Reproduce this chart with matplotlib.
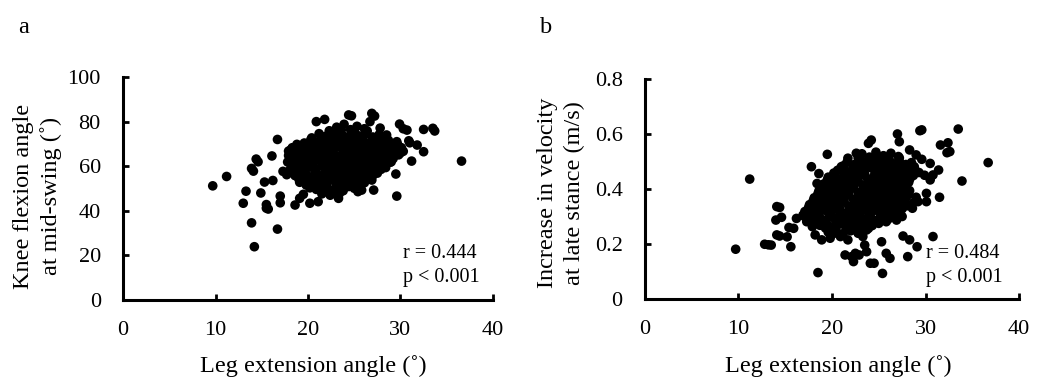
import matplotlib
matplotlib.use("Agg")
import matplotlib.pyplot as plt

plt.rcParams["font.family"] = ["Liberation Serif", "DejaVu Serif"]

# Panel a: leg extension angle (deg) vs knee flexion angle at mid-swing (deg)
# dense middle of the cloud
a_core = [
    (23.1, 77.5), (23.9, 78.8), (24.6, 76.4), (25.3, 77.9), (26.1, 76.8),
    (21.2, 74.6), (21.9, 73.4), (22.6, 75.1), (23.3, 74.0), (24.0, 73.2),
    (24.8, 74.9), (25.5, 73.6), (26.2, 74.4), (27.0, 73.1), (27.7, 74.2),
    (19.6, 70.4), (20.3, 71.8), (21.0, 70.9), (21.7, 71.5), (22.4, 70.2),
    (23.1, 71.9), (23.8, 70.6), (24.5, 71.3), (25.2, 70.1), (25.9, 71.7),
    (26.6, 70.5), (27.3, 71.2), (28.0, 70.3), (28.7, 71.6), (29.3, 70.0),
    (18.2, 67.6), (18.9, 68.5), (19.6, 67.3), (20.3, 68.8), (21.0, 67.5),
    (21.7, 68.2), (22.4, 67.1), (23.1, 68.6), (23.8, 67.4), (24.5, 68.3),
    (25.2, 67.0), (25.9, 68.7), (26.6, 67.6), (27.3, 68.4), (28.0, 67.2),
    (28.7, 68.1), (29.4, 67.5), (30.1, 68.3),
    (17.9, 64.8), (18.6, 65.6), (19.3, 64.3), (20.0, 65.4), (20.7, 64.6),
    (21.4, 65.9), (22.1, 64.2), (22.8, 65.3), (23.5, 64.7), (24.2, 65.8),
    (24.9, 64.4), (25.6, 65.2), (26.3, 64.9), (27.0, 65.7), (27.7, 64.1),
    (28.4, 65.5), (29.1, 64.6), (29.8, 65.1),
    (17.8, 61.9), (18.5, 62.7), (19.2, 61.3), (19.9, 62.4), (20.6, 61.6),
    (21.3, 62.9), (22.0, 61.2), (22.7, 62.5), (23.4, 61.8), (24.1, 62.6),
    (24.8, 61.4), (25.5, 62.2), (26.2, 61.7), (26.9, 62.8), (27.6, 61.5),
    (28.3, 62.3), (28.9, 61.8),
    (18.1, 58.7), (18.8, 59.5), (19.5, 58.3), (20.2, 59.6), (20.9, 58.8),
    (21.6, 59.9), (22.3, 58.4), (23.0, 59.2), (23.7, 58.6), (24.4, 59.7),
    (25.1, 58.5), (25.8, 59.3), (26.5, 58.9), (27.2, 59.8), (27.9, 58.6),
    (28.4, 59.4),
    (18.6, 55.8), (19.3, 56.6), (20.0, 55.4), (20.7, 56.3), (21.4, 55.7),
    (22.1, 56.8), (22.8, 55.2), (23.5, 56.4), (24.2, 55.9), (24.9, 56.7),
    (25.6, 55.5), (26.3, 56.2), (27.0, 55.8), (27.5, 56.9),
    (19.1, 52.8), (19.8, 53.6), (20.5, 52.4), (21.2, 53.3), (21.9, 52.7),
    (22.6, 53.8), (23.3, 52.5), (24.0, 53.4), (24.7, 52.9), (25.4, 53.7),
    (26.1, 52.6),
    (20.2, 50.3), (20.9, 49.6), (21.6, 50.8), (22.3, 49.4), (23.0, 50.5),
    (23.7, 49.8), (24.4, 50.9), (25.0, 50.1),
    (21.5, 47.6), (22.4, 47.0), (23.4, 47.8),
]
# more points sitting between the rows above
a_fill = [
    (22.3, 75.9), (23.6, 76.2), (25.0, 75.6), (26.4, 75.8),
    (20.4, 72.7), (21.5, 72.9), (22.6, 72.4), (23.7, 72.8), (24.8, 72.5),
    (25.9, 72.9), (27.0, 72.3), (28.1, 72.6),
    (18.8, 69.8), (19.9, 69.4), (21.0, 69.9), (22.1, 69.5), (23.2, 69.7),
    (24.3, 69.3), (25.4, 69.8), (26.5, 69.4), (27.6, 69.9), (28.7, 69.5),
    (29.7, 69.7),
    (18.3, 66.3), (19.4, 66.8), (20.5, 66.2), (21.6, 66.7), (22.7, 66.4),
    (23.8, 66.9), (24.9, 66.3), (26.0, 66.6), (27.1, 66.2), (28.2, 66.8),
    (29.3, 66.4), (30.3, 66.7),
    (18.2, 63.6), (19.3, 63.2), (20.4, 63.8), (21.5, 63.4), (22.6, 63.7),
    (23.7, 63.3), (24.8, 63.9), (25.9, 63.5), (27.0, 63.2), (28.1, 63.8),
    (29.2, 63.4),
    (18.3, 60.2), (19.4, 60.7), (20.5, 60.3), (21.6, 60.8), (22.7, 60.1),
    (23.8, 60.6), (24.9, 60.4), (26.0, 60.9), (27.1, 60.2), (28.2, 60.6),
    (18.6, 57.4), (19.7, 57.1), (20.8, 57.6), (21.9, 57.2), (23.0, 57.7),
    (24.1, 57.3), (25.2, 57.5), (26.3, 57.1), (27.4, 57.6),
    (19.0, 54.4), (20.1, 54.1), (21.2, 54.6), (22.3, 54.2), (23.4, 54.5),
    (24.5, 54.0), (25.6, 54.4), (26.6, 54.2),
    (19.8, 51.6), (20.9, 51.2), (22.0, 51.7), (23.1, 51.3), (24.2, 51.8),
    (25.3, 51.4),
]
# scattered points around the edge
a_edge = [
    (9.7, 51.2), (11.2, 55.4), (13.0, 43.4), (13.3, 48.8), (13.9, 59.0),
    (14.1, 57.8), (13.9, 34.6), (14.2, 23.9), (14.4, 63.2), (14.6, 62.0),
    (14.9, 48.0), (15.3, 52.9), (15.5, 42.8), (15.7, 40.8), (15.5, 41.2),
    (16.1, 64.6), (16.2, 53.6), (16.7, 72.0), (16.7, 31.8), (17.0, 46.6),
    (17.0, 43.6), (17.3, 57.7), (17.7, 56.2), (17.9, 66.8), (18.3, 68.3),
    (18.6, 42.6), (19.1, 45.6), (19.5, 47.4), (20.2, 43.4), (21.1, 44.1),
    (22.9, 47.8), (23.3, 45.6), (23.8, 49.0), (25.4, 48.6), (25.8, 49.3),
    (26.9, 53.8), (27.1, 49.3), (29.5, 56.5), (29.6, 46.6),
    (20.9, 80.0), (21.8, 81.0), (24.4, 83.0), (24.7, 82.6), (26.9, 83.7),
    (27.2, 82.5), (26.7, 80.0), (27.8, 77.1), (28.5, 74.0), (29.6, 71.0),
    (29.9, 78.9), (30.3, 76.8), (30.7, 76.2), (30.9, 71.4), (31.8, 69.5),
    (32.5, 66.5), (31.2, 62.3), (32.5, 76.5), (33.5, 77.0), (33.7, 75.8),
    (36.6, 62.3), (29.6, 67.3), (29.0, 62.0), (30.0, 66.0), (31.0, 70.5),
]

# Panel b: leg extension angle (deg) vs increase in velocity at late stance (m/s)
b_core = [
    (23.2, 0.528), (24.0, 0.516), (24.7, 0.534), (25.5, 0.521), (26.3, 0.530),
    (27.1, 0.518),
    (21.6, 0.497), (22.3, 0.488), (23.0, 0.503), (23.7, 0.491), (24.4, 0.499),
    (25.1, 0.486), (25.8, 0.502), (26.5, 0.493), (27.2, 0.500), (27.9, 0.489),
    (28.5, 0.496),
    (20.6, 0.468), (21.3, 0.476), (22.0, 0.463), (22.7, 0.474), (23.4, 0.466),
    (24.1, 0.478), (24.8, 0.462), (25.5, 0.473), (26.2, 0.467), (26.9, 0.477),
    (27.6, 0.464), (28.3, 0.472), (28.9, 0.468),
    (19.6, 0.443), (20.3, 0.451), (21.0, 0.438), (21.7, 0.448), (22.4, 0.441),
    (23.1, 0.452), (23.8, 0.437), (24.5, 0.446), (25.2, 0.440), (25.9, 0.450),
    (26.6, 0.436), (27.3, 0.447), (28.0, 0.442), (28.7, 0.449),
    (19.1, 0.418), (19.8, 0.426), (20.5, 0.413), (21.2, 0.423), (21.9, 0.416),
    (22.6, 0.427), (23.3, 0.412), (24.0, 0.421), (24.7, 0.417), (25.4, 0.425),
    (26.1, 0.411), (26.8, 0.422), (27.5, 0.415), (28.2, 0.424),
    (18.6, 0.393), (19.3, 0.401), (20.0, 0.388), (20.7, 0.398), (21.4, 0.391),
    (22.1, 0.402), (22.8, 0.387), (23.5, 0.396), (24.2, 0.392), (24.9, 0.400),
    (25.6, 0.386), (26.3, 0.397), (27.0, 0.390), (27.7, 0.399), (28.3, 0.394),
    (18.1, 0.368), (18.8, 0.376), (19.5, 0.363), (20.2, 0.373), (20.9, 0.366),
    (21.6, 0.377), (22.3, 0.362), (23.0, 0.371), (23.7, 0.367), (24.4, 0.375),
    (25.1, 0.361), (25.8, 0.372), (26.5, 0.365), (27.2, 0.374), (27.9, 0.369),
    (17.6, 0.343), (18.3, 0.351), (19.0, 0.338), (19.7, 0.348), (20.4, 0.341),
    (21.1, 0.352), (21.8, 0.337), (22.5, 0.346), (23.2, 0.342), (23.9, 0.350),
    (24.6, 0.336), (25.3, 0.347), (26.0, 0.340), (26.7, 0.349), (27.4, 0.344),
    (28.0, 0.339),
    (17.1, 0.318), (17.8, 0.326), (18.5, 0.313), (19.2, 0.323), (19.9, 0.316),
    (20.6, 0.327), (21.3, 0.312), (22.0, 0.321), (22.7, 0.317), (23.4, 0.325),
    (24.1, 0.311), (24.8, 0.322), (25.5, 0.315), (26.2, 0.324), (26.9, 0.319),
    (27.5, 0.328),
    (17.6, 0.293), (18.3, 0.301), (19.0, 0.288), (19.7, 0.298), (20.4, 0.291),
    (21.1, 0.302), (21.8, 0.287), (22.5, 0.296), (23.2, 0.292), (23.9, 0.300),
    (24.6, 0.286), (25.3, 0.297), (26.0, 0.290), (26.5, 0.299),
    (18.7, 0.268), (19.4, 0.276), (20.1, 0.263), (20.8, 0.273), (21.5, 0.266),
    (22.2, 0.277), (22.9, 0.262), (23.6, 0.271), (24.3, 0.267), (25.0, 0.275),
    (19.6, 0.243), (20.4, 0.251), (21.2, 0.238), (22.0, 0.248), (22.8, 0.241),
]
b_fill = [
    (22.8, 0.512), (23.9, 0.508), (25.0, 0.514), (26.1, 0.509), (27.2, 0.513),
    (21.2, 0.484), (22.3, 0.480), (23.4, 0.486), (24.5, 0.481), (25.6, 0.485),
    (26.7, 0.479), (27.8, 0.484), (28.8, 0.481),
    (20.2, 0.458), (21.3, 0.455), (22.4, 0.460), (23.5, 0.454), (24.6, 0.459),
    (25.7, 0.456), (26.8, 0.461), (27.9, 0.455), (28.9, 0.458),
    (19.5, 0.433), (20.6, 0.429), (21.7, 0.435), (22.8, 0.430), (23.9, 0.434),
    (25.0, 0.428), (26.1, 0.433), (27.2, 0.431), (28.3, 0.435),
    (19.0, 0.408), (20.1, 0.404), (21.2, 0.410), (22.3, 0.405), (23.4, 0.409),
    (24.5, 0.403), (25.6, 0.408), (26.7, 0.406), (27.8, 0.410),
    (18.5, 0.383), (19.6, 0.379), (20.7, 0.385), (21.8, 0.380), (22.9, 0.384),
    (24.0, 0.378), (25.1, 0.383), (26.2, 0.381), (27.3, 0.385), (28.2, 0.380),
    (18.0, 0.358), (19.1, 0.354), (20.2, 0.360), (21.3, 0.355), (22.4, 0.359),
    (23.5, 0.353), (24.6, 0.358), (25.7, 0.356), (26.8, 0.360), (27.8, 0.355),
    (17.5, 0.333), (18.6, 0.329), (19.7, 0.335), (20.8, 0.330), (21.9, 0.334),
    (23.0, 0.328), (24.1, 0.333), (25.2, 0.331), (26.3, 0.335), (27.4, 0.330),
    (17.5, 0.308), (18.6, 0.304), (19.7, 0.310), (20.8, 0.305), (21.9, 0.309),
    (23.0, 0.303), (24.1, 0.308), (25.2, 0.306), (26.3, 0.310),
    (18.2, 0.283), (19.3, 0.279), (20.4, 0.285), (21.5, 0.280), (22.6, 0.284),
    (23.7, 0.278), (24.8, 0.283), (25.8, 0.281),
    (19.3, 0.258), (20.4, 0.254), (21.5, 0.259), (22.6, 0.255), (23.6, 0.258),
]
b_edge = [
    (9.7, 0.181), (11.2, 0.436), (12.8, 0.199), (13.2, 0.197), (13.5, 0.196),
    (14.1, 0.233), (14.4, 0.229), (14.1, 0.336), (14.4, 0.333), (14.0, 0.287),
    (14.6, 0.297), (15.2, 0.226), (15.6, 0.190), (15.4, 0.260), (15.9, 0.257),
    (16.2, 0.293), (17.1, 0.299), (16.9, 0.305), (17.3, 0.281), (17.8, 0.481),
    (17.9, 0.263), (18.2, 0.233), (18.5, 0.096), (18.4, 0.420), (18.7, 0.384),
    (18.6, 0.456), (18.9, 0.215), (19.5, 0.526), (19.8, 0.221), (20.1, 0.237),
    (20.9, 0.227), (21.0, 0.481), (21.7, 0.512), (22.6, 0.530), (23.9, 0.566),
    (24.2, 0.578), (21.4, 0.160), (22.1, 0.154), (22.5, 0.166), (22.3, 0.136),
    (21.7, 0.215), (22.8, 0.239), (23.5, 0.196), (23.7, 0.172), (23.7, 0.251),
    (22.9, 0.160), (23.3, 0.227), (23.9, 0.257), (24.1, 0.130), (24.5, 0.130),
    (25.3, 0.208), (25.8, 0.166), (26.2, 0.148), (25.4, 0.093), (27.6, 0.229),
    (28.3, 0.215), (29.1, 0.190), (28.1, 0.154), (30.8, 0.227), (26.9, 0.287),
    (25.8, 0.299), (29.2, 0.354), (30.1, 0.354), (30.1, 0.384), (31.5, 0.370),
    (30.5, 0.433), (30.8, 0.451), (31.4, 0.469), (30.5, 0.493), (29.6, 0.508),
    (29.0, 0.524), (28.3, 0.542), (27.0, 0.600), (27.2, 0.572), (24.2, 0.512),
    (29.4, 0.612), (29.6, 0.615), (31.6, 0.560), (32.4, 0.568), (32.6, 0.536),
    (32.3, 0.532), (33.5, 0.618), (33.9, 0.429), (36.7, 0.496), (28.6, 0.330),
    (29.0, 0.370), (28.7, 0.350), (27.5, 0.300), (29.3, 0.460), (29.9, 0.450),
]

x_ticks = [0, 10, 20, 30, 40]
a_yticks = [0, 20, 40, 60, 80, 100]
b_yticks = [0, 0.2, 0.4, 0.6, 0.8]
b_yticklabels = ["0", "0.2", "0.4", "0.6", "0.8"]

a_points = a_core + a_fill + a_edge
b_points = b_core + b_fill + b_edge
a_x = [p[0] for p in a_points]
a_y = [p[1] for p in a_points]
b_x = [p[0] for p in b_points]
b_y = [p[1] for p in b_points]

fig = plt.figure(figsize=(10.46, 3.8), dpi=100)
ax_a = fig.add_axes([0.1176, 0.2105, 0.3537, 0.5868])
ax_b = fig.add_axes([0.6166, 0.2132, 0.3576, 0.5789])


def style_axes(ax):
    for side in ["top", "right"]:
        ax.spines[side].set_visible(False)
    for side in ["left", "bottom"]:
        ax.spines[side].set_linewidth(2.2)
    ax.tick_params(direction="in", length=4.5, width=2.0, labelsize=16)
    ax.tick_params(axis="y", pad=16)
    ax.tick_params(axis="x", pad=15)


# panel a
ax_a.scatter(a_x, a_y, s=48, color="black", edgecolors="none")
ax_a.set_xlim(0, 40)
ax_a.set_ylim(0, 100)
ax_a.set_xticks(x_ticks)
ax_a.set_yticks(a_yticks)
style_axes(ax_a)
ax_a.text(0.515, -0.296, "Leg extension angle (˚)", transform=ax_a.transAxes,
          ha="center", va="center", fontsize=17.5)
ax_a.text(-0.232, 0.466, "Knee flexion angle\nat mid-swing (˚)", transform=ax_a.transAxes,
          ha="center", va="center", rotation=90, fontsize=17.5, linespacing=1.35,
          multialignment="center")
ax_a.text(0.757, 0.187, "r = 0.444", transform=ax_a.transAxes, fontsize=14.5, va="baseline")
ax_a.text(0.757, 0.082, "p < 0.001", transform=ax_a.transAxes, fontsize=14.5, va="baseline")

# panel b
ax_b.scatter(b_x, b_y, s=48, color="black", edgecolors="none")
ax_b.set_xlim(0, 40)
ax_b.set_ylim(0, 0.8)
ax_b.set_xticks(x_ticks)
ax_b.set_yticks(b_yticks)
ax_b.set_yticklabels(b_yticklabels)
style_axes(ax_b)
ax_b.text(0.517, -0.305, "Leg extension angle (˚)", transform=ax_b.transAxes,
          ha="center", va="center", fontsize=17.5)
ax_b.text(-0.224, 0.482, "Increase in velocity\nat late stance (m/s)", transform=ax_b.transAxes,
          ha="center", va="center", rotation=90, fontsize=17.5, linespacing=1.35,
          multialignment="center")
ax_b.text(0.751, 0.185, "r = 0.484", transform=ax_b.transAxes, fontsize=14.5, va="baseline")
ax_b.text(0.751, 0.079, "p < 0.001", transform=ax_b.transAxes, fontsize=14.5, va="baseline")

# panel letters
fig.text(0.0172, 0.913, "a", fontsize=17.5, va="baseline")
fig.text(0.516, 0.913, "b", fontsize=17.5, va="baseline")

fig.savefig("out.png", dpi=100)
